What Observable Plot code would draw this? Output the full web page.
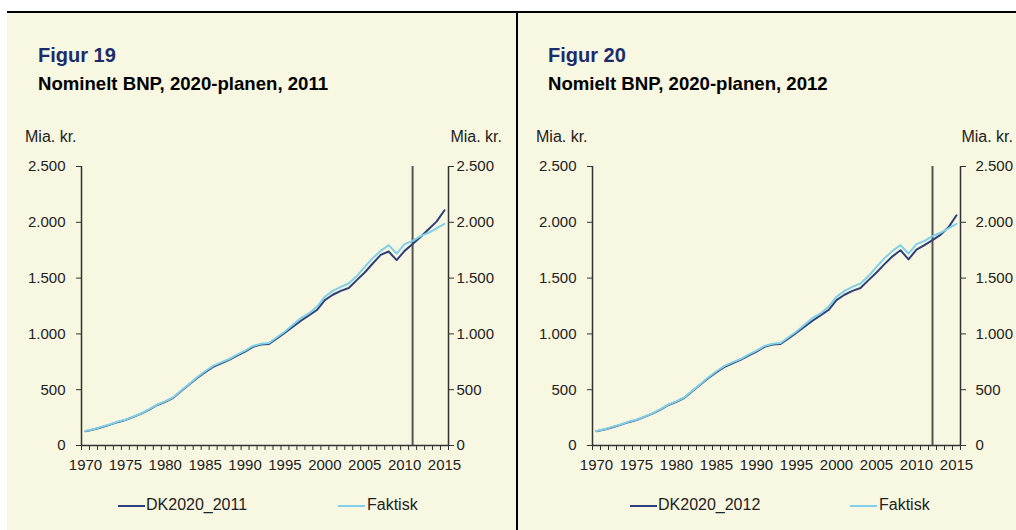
<!DOCTYPE html>
<html><head><meta charset="utf-8">
<script src="https://cdn.jsdelivr.net/npm/d3@7"></script>
<script src="https://cdn.jsdelivr.net/npm/@observablehq/plot@0.6"></script>
<style>
body{margin:0;width:1016px;height:530px;background:#fff;font-family:"Liberation Sans",Arial,sans-serif;position:relative;overflow:hidden}
#bg{position:absolute;left:7px;top:11px;width:1009px;height:517px;background:#f8f7e1;border-top:2px solid #000}
#divider{position:absolute;left:516px;top:11px;width:2px;height:519px;background:#000}
.abs{position:absolute;white-space:nowrap;line-height:1}
.fig{font-weight:bold;font-size:20px;color:#1b2b6b}
.sub{font-weight:bold;font-size:18.6px;color:#000}
.unit{font-size:16px;color:#222}
.leg{font-size:16px;color:#222}
.sw{position:absolute;height:2px}
</style></head><body>
<div id="bg"></div>
<div id="divider"></div>
<div id="root"></div>
<script>
// ---- data ----
const years = d3.range(1970, 2016);
const faktisk = [130,146,167,188,212,230,259,289,325,367,396,432,492,552,611,665,713,745,775,814,
  850,892,912,918,970,1022,1082,1142,1183,1243,1333,1386,1422,1452,1518,1600,1679,1744,1795,1720,
  1804,1834,1876,1906,1946,1985];
const dk2011 = [128,143,164,185,209,228,256,286,322,363,392,428,488,547,606,658,705,737,767,806,
  842,884,905,910,960,1011,1064,1118,1166,1214,1303,1351,1386,1411,1482,1550,1631,1708,1738,1661,
  1744,1805,1868,1938,2006,2108];
const dk2012 = [128,143,164,185,209,228,256,286,322,363,392,428,488,547,606,658,705,737,767,806,
  842,884,905,910,960,1011,1064,1118,1166,1214,1303,1351,1386,1411,1482,1550,1625,1695,1750,1668,
  1755,1795,1840,1888,1955,2063];
const yTicks = [0,500,1000,1500,2000,2500];
const xLabels = [1970,1975,1980,1985,1990,1995,2000,2005,2010,2015];
const panels = [
  {fig:"Figur 19", sub:"Nominelt BNP, 2020-planen, 2011", name:"DK2020_2011", dk:dk2011, plan:2011},
  {fig:"Figur 20", sub:"Nomielt BNP, 2020-planen, 2012", name:"DK2020_2012", dk:dk2012, plan:2012}
];
const unitLabel = "Mia. kr.";
const legendFaktisk = "Faktisk";

// ---- style ----
const dkColor = "#2f3f7a", fakColor = "#7fd0e8";
const layout = [
  {left:0, width:517, mL:81, mR:69, rPad:3, figX:38, unitL:25, unitR:502, legDK:118, legF:338},
  {left:517, width:499, mL:75, mR:56, rPad:10, figX:548, unitL:536, unitR:1013, legDK:630, legF:850}
];
const fmt = d => d3.format(",")(d).replace(/,/g, ".");
const root = document.getElementById("root");
function add(cls, text, style){
  const d = document.createElement("div");
  d.className = "abs " + cls; d.textContent = text;
  Object.assign(d.style, style); root.appendChild(d); return d;
}
panels.forEach((p, k) => {
  const L = layout[k];
  add("fig", p.fig, {left:L.figX+"px", top:"45px"});
  add("sub", p.sub, {left:L.figX+"px", top:"75px"});
  add("unit", unitLabel, {left:L.unitL+"px", top:"129px"});
  add("unit", unitLabel, {left:(L.unitR-70)+"px", width:"70px", textAlign:"right", top:"129px"});
  const data = years.map((y, i) => ({year:y, dk:p.dk[i], fak:faktisk[i]}));
  const x0 = years[0] - 0.5, x1 = years[years.length-1] + 0.5;
  const boundaries = d3.range(x0, x1 + 0.01, 1);
  const ax = {fontSize:15, label:null, stroke:"#333", fill:"#222"};
  const chart = Plot.plot({
    width: L.width, height: 330, marginTop: 16, marginBottom: 35, marginLeft: L.mL, marginRight: L.mR,
    style: {background:"transparent", fontFamily:"'Liberation Sans', Arial, sans-serif", fontSize:"15px", color:"#222", overflow:"visible"},
    x: {domain:[x0, x1]},
    y: {domain:[0, 2500]},
    marks: [
      Plot.axisY(yTicks, {...ax, anchor:"left", tickSize:5, tickPadding:11, tickFormat:fmt}),
      Plot.axisY(yTicks, {...ax, anchor:"right", tickSize:5, tickPadding:L.rPad, tickFormat:fmt}),
      Plot.axisX(boundaries, {...ax, anchor:"bottom", tickSize:5, tickFormat:() => ""}),
      Plot.axisX(xLabels, {...ax, anchor:"bottom", tickSize:0, tickPadding:14, tickFormat:d => String(d)}),
      Plot.ruleX([x0, x1], {stroke:"#333", strokeWidth:1.5}),
      Plot.ruleY([0], {stroke:"#333", strokeWidth:1.5}),
      Plot.ruleX([p.plan], {stroke:"#555", strokeWidth:2}),
      Plot.lineY(data, {x:"year", y:"dk", stroke:dkColor, strokeWidth:2}),
      Plot.lineY(data, {x:"year", y:"fak", stroke:fakColor, strokeWidth:2})
    ]
  });
  chart.style.position = "absolute";
  chart.style.left = L.left + "px";
  chart.style.top = "150px";
  root.appendChild(chart);
  // legend
  const sw1 = document.createElement("div"); sw1.className = "sw";
  Object.assign(sw1.style, {left:L.legDK+"px", top:"505px", width:"27px", background:dkColor}); root.appendChild(sw1);
  add("leg", p.name, {left:(L.legDK+28)+"px", top:"497px"});
  const sw2 = document.createElement("div"); sw2.className = "sw";
  Object.assign(sw2.style, {left:L.legF+"px", top:"505px", width:"27px", background:fakColor}); root.appendChild(sw2);
  add("leg", legendFaktisk, {left:(L.legF+29)+"px", top:"497px"});
});
</script>
</body></html>
